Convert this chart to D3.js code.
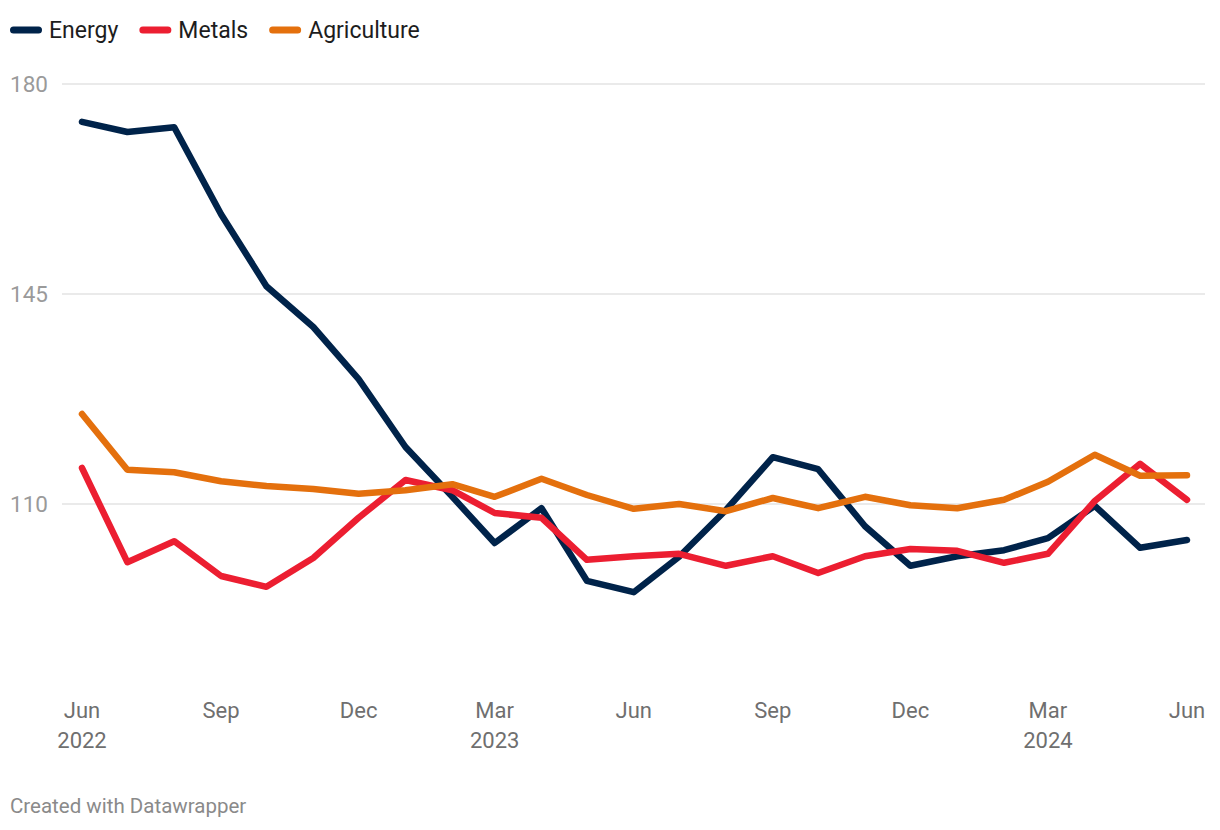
<!DOCTYPE html>
<html><head><meta charset="utf-8">
<script src="https://cdn.jsdelivr.net/npm/d3@7"></script>
<style>
html,body{margin:0;padding:0;background:#fff;}
svg text{font-family:Roboto,"Noto Sans",sans-serif;}
</style></head>
<body>
<svg id="c" width="1220" height="830"></svg>
<script>
const months = ["2022-06","2022-07","2022-08","2022-09","2022-10","2022-11","2022-12",
"2023-01","2023-02","2023-03","2023-04","2023-05","2023-06","2023-07","2023-08","2023-09","2023-10","2023-11","2023-12",
"2024-01","2024-02","2024-03","2024-04","2024-05","2024-06"];
const energy = [173.7,172.0,172.8,158.3,146.3,139.5,130.8,119.5,111.2,103.5,109.3,97.2,95.3,101.2,109.0,117.8,115.8,106.3,99.7,101.3,102.3,104.3,109.7,102.7,104.0];
const metals = [116.0,100.3,103.8,98.0,96.2,101.0,107.7,114.0,112.3,108.5,107.7,100.7,101.3,101.7,99.7,101.3,98.5,101.3,102.5,102.2,100.2,101.7,110.5,116.7,110.7];
const agriculture = [125.0,115.7,115.3,113.8,113.0,112.5,111.7,112.3,113.3,111.2,114.2,111.5,109.2,110.0,108.8,111.0,109.3,111.2,109.8,109.3,110.7,113.7,118.2,114.7,114.8];
const seriesNames = ["Energy","Metals","Agriculture"];
const seriesColors = ["#00234a","#ec1e31","#e4700d"];
const yTicks = [110,145,180];
const xTickMonths = ["2022-06","2022-09","2022-12","2023-03","2023-06","2023-09","2023-12","2024-03","2024-06"];

const parse = d3.timeParse("%Y-%m");
const dates = months.map(parse);
const series = [energy, metals, agriculture];

const svg = d3.select("#c");
const x = d3.scaleTime().domain(d3.extent(dates)).range([82,1187]);
const y = d3.scaleLinear().domain([110,180]).range([504,84]);

// gridlines
const grid = svg.append("g");
grid.selectAll("line").data(yTicks).join("line")
  .attr("x1",62).attr("x2",1205)
  .attr("y1",d=>y(d)).attr("y2",d=>y(d))
  .attr("stroke","#e3e3e3").attr("stroke-width",1.5);
grid.selectAll("text").data(yTicks).join("text")
  .attr("x",10).attr("y",d=>y(d)).attr("dy","0.35em")
  .attr("fill","#9a9a9a").attr("font-size",22.5).text(d=>d);

// x axis labels
const fmtM = d3.timeFormat("%b"), fmtY = d3.timeFormat("%Y");
const xg = svg.append("g");
const xt = xTickMonths.map(parse);
xt.forEach((d,i)=>{
  const t = xg.append("text").attr("x",x(d)).attr("y",718)
    .attr("text-anchor","middle").attr("fill","#6f6f6f").attr("font-size",22);
  t.text(fmtM(d));
  const showYear = (i===0) || (d.getMonth()===2);
  if(showYear && i!==xt.length-1){
    xg.append("text").attr("x",x(d)).attr("y",748)
      .attr("text-anchor","middle").attr("fill","#6f6f6f").attr("font-size",22)
      .text(fmtY(d));
  }
});

// lines
const line = d3.line().x((d,i)=>x(dates[i])).y(d=>y(d));
svg.append("g").selectAll("path").data(series).join("path")
  .attr("d",line).attr("fill","none")
  .attr("stroke",(d,i)=>seriesColors[i]).attr("stroke-width",6.5)
  .attr("stroke-linejoin","round").attr("stroke-linecap","round");

// legend
const lg = svg.append("g");
let lx = 10;
seriesNames.forEach((n,i)=>{
  lg.append("line").attr("x1",lx+3.5).attr("x2",lx+28.5).attr("y1",30).attr("y2",30)
    .attr("stroke",seriesColors[i]).attr("stroke-width",7).attr("stroke-linecap","round");
  const t = lg.append("text").attr("x",lx+39).attr("y",30).attr("dy","0.35em")
    .attr("fill","#1d1d1d").attr("font-size",23).text(n);
  lx = lx + 39 + t.node().getComputedTextLength() + 21;
});

// footer
svg.append("text").attr("x",10).attr("y",806).attr("dy","0.35em")
  .attr("fill","#8a8a8a").attr("font-size",20.5).text("Created with Datawrapper");
</script>
</body></html>
